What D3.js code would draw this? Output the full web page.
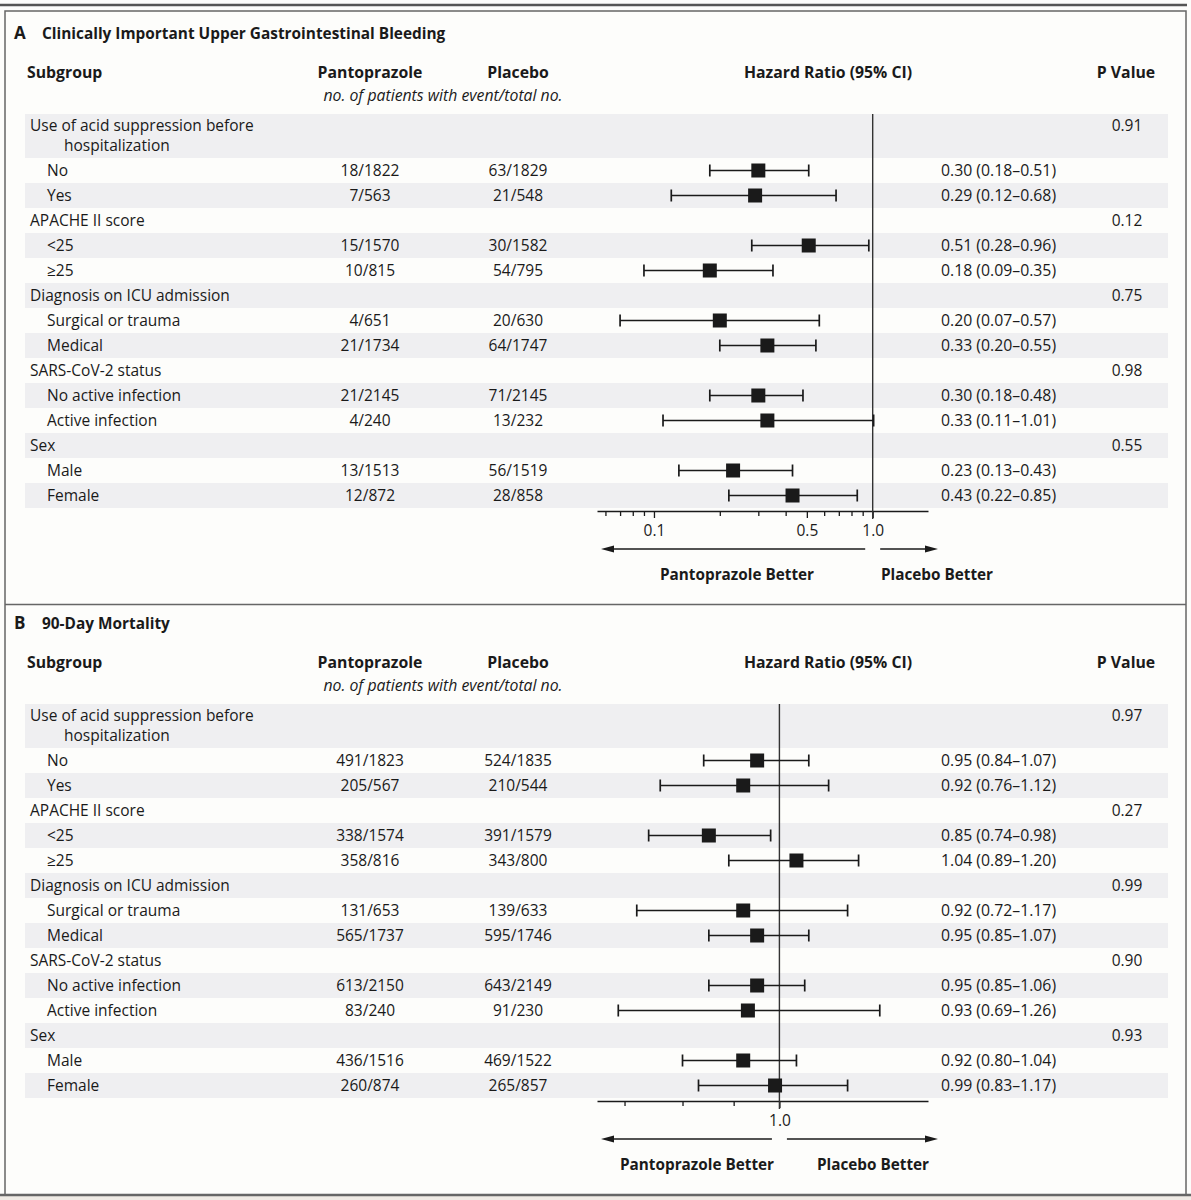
<!DOCTYPE html>
<html>
<head>
<meta charset="utf-8">
<script src="https://cdn.jsdelivr.net/npm/d3@7"></script>
<style>
  body { margin: 0; background: #fdfdfb; }
  svg text { font-family: "Open Sans", Lato, sans-serif; fill: #1a1a1a; }
</style>
</head>
<body>
<svg id="chart" width="1191" height="1200"></svg>
<script>
// subgroups shared by both panels ("|" marks a line break)
const groupNames = [
  "Use of acid suppression before|hospitalization",
  "APACHE II score",
  "Diagnosis on ICU admission",
  "SARS-CoV-2 status",
  "Sex"
];
const subgroupNames = [
  ["No", "Yes"],
  ["<25", "≥25"],
  ["Surgical or trauma", "Medical"],
  ["No active infection", "Active infection"],
  ["Male", "Female"]
];

// panel A: clinically important upper GI bleeding
const bleedPanto = ["18/1822", "7/563", "15/1570", "10/815", "4/651", "21/1734", "21/2145", "4/240", "13/1513", "12/872"];
const bleedPlacebo = ["63/1829", "21/548", "30/1582", "54/795", "20/630", "64/1747", "71/2145", "13/232", "56/1519", "28/858"];
const bleedHR = [0.30, 0.29, 0.51, 0.18, 0.20, 0.33, 0.30, 0.33, 0.23, 0.43];
const bleedLo = [0.18, 0.12, 0.28, 0.09, 0.07, 0.20, 0.18, 0.11, 0.13, 0.22];
const bleedHi = [0.51, 0.68, 0.96, 0.35, 0.57, 0.55, 0.48, 1.01, 0.43, 0.85];
const bleedP = ["0.91", "0.12", "0.75", "0.98", "0.55"];
const bleedTicks = [0.06, 0.07, 0.08, 0.09, 0.1, 0.2, 0.3, 0.4, 0.5, 0.6, 0.7, 0.8, 0.9, 1.0];
const bleedTickLabels = [0.1, 0.5, 1.0];

// panel B: 90-day mortality
const mortPanto = ["491/1823", "205/567", "338/1574", "358/816", "131/653", "565/1737", "613/2150", "83/240", "436/1516", "260/874"];
const mortPlacebo = ["524/1835", "210/544", "391/1579", "343/800", "139/633", "595/1746", "643/2149", "91/230", "469/1522", "265/857"];
const mortHR = [0.95, 0.92, 0.85, 1.04, 0.92, 0.95, 0.95, 0.93, 0.92, 0.99];
const mortLo = [0.84, 0.76, 0.74, 0.89, 0.72, 0.85, 0.85, 0.69, 0.80, 0.83];
const mortHi = [1.07, 1.12, 0.98, 1.20, 1.17, 1.07, 1.06, 1.26, 1.04, 1.17];
const mortP = ["0.97", "0.27", "0.99", "0.90", "0.93"];
const mortTicks = [0.7, 0.8, 0.9, 1.0];
const mortTickLabels = [1.0];

const svg = d3.select("#chart");
const ink = "#1a1a1a";
const fmt2 = d3.format(".2f");
const bodySize = 15.5;
const headSize = 15.8;

// frame
svg.append("line").attr("x1", 0).attr("x2", 1187).attr("y1", 5).attr("y2", 5)
    .attr("stroke", "#555").attr("stroke-width", 2.5);
svg.append("rect").attr("x", 0).attr("y", 1196).attr("width", 1191).attr("height", 4)
    .attr("fill", "#efebe5");
svg.append("rect").attr("x", 5).attr("y", 11).attr("width", 1181).attr("height", 1184)
    .attr("fill", "none").attr("stroke", "#666").attr("stroke-width", 1.5);
svg.append("line").attr("x1", 5).attr("x2", 1186).attr("y1", 604.5).attr("y2", 604.5)
    .attr("stroke", "#666").attr("stroke-width", 1.5);
svg.append("line").attr("x1", 0).attr("x2", 1191).attr("y1", 1195).attr("y2", 1195)
    .attr("stroke", "#666").attr("stroke-width", 2.5);

function buildRows(panto, placebo, hr, lo, hi, pvals)
{
  let rows = [];
  let k = 0;
  groupNames.forEach((g, gi) => {
    rows.push({ group : true, label : g, p : pvals[gi] });
    for (let s of subgroupNames[gi])
    {
      rows.push({ group : false, label : s, panto : panto[k], placebo : placebo[k],
                  hr : hr[k], lo : lo[k], hi : hi[k] });
      k++;
    }
  });
  return rows;
}

function drawPanel(cfg)
{
  const g = svg.append("g").attr("transform", `translate(0,${cfg.offset})`);

  // title and column headers
  g.append("text").attr("x", 14).attr("y", 39).attr("font-weight", 700)
      .attr("font-size", 17).text(cfg.letter);
  g.append("text").attr("x", 42).attr("y", 39).attr("font-weight", 700)
      .attr("font-size", 15.4).text(cfg.title);

  const head = g.append("g").attr("font-weight", 700).attr("font-size", headSize);
  head.append("text").attr("x", 27).attr("y", 78).text("Subgroup");
  head.append("text").attr("x", 370).attr("y", 78).attr("text-anchor", "middle").text("Pantoprazole");
  head.append("text").attr("x", 518).attr("y", 78).attr("text-anchor", "middle").text("Placebo");
  head.append("text").attr("x", 828).attr("y", 78).attr("text-anchor", "middle").text("Hazard Ratio (95% CI)");
  head.append("text").attr("x", 1126).attr("y", 78).attr("text-anchor", "middle").text("P Value");
  g.append("text").attr("x", 443).attr("y", 101).attr("text-anchor", "middle")
      .attr("font-style", "italic").attr("font-size", 15.8)
      .text("no. of patients with event/total no.");

  // row layout: first row holds two lines of text
  const rows = cfg.rows;
  let y = 114;
  rows.forEach((r, i) => {
    r.h = i === 0 ? 44 : 25;
    r.top = y;
    r.mid = y + r.h / 2;
    r.textY = i === 0 ? y + 12 : r.mid;
    y += r.h;
  });
  const axisY = y + 3;

  const x = d3.scaleLog().domain(cfg.domain).range([ 597, 928 ]);

  g.selectAll("rect.band")
      .data(rows.filter((r, i) => i % 2 === 0))
      .join("rect")
      .attr("class", "band")
      .attr("x", 25)
      .attr("y", d => d.top)
      .attr("width", 1143)
      .attr("height", d => d.h)
      .attr("fill", "#efeff1");

  const body = g.append("g").attr("font-size", bodySize);

  // subgroup labels (group names may wrap onto a second, indented line)
  body.selectAll("text.label")
      .data(rows)
      .join("text")
      .attr("class", "label")
      .attr("y", d => d.textY)
      .each(function(d) {
        const x0 = d.group ? 30 : 47;
        d3.select(this).selectAll("tspan")
            .data(d.label.split("|"))
            .join("tspan")
            .attr("x", (p, i) => i === 0 ? x0 : 64)
            .attr("dy", (p, i) => i === 0 ? "0.35em" : "20")
            .text(p => p);
      });

  const subs = rows.filter(r => !r.group);
  const groups = rows.filter(r => r.group);

  body.selectAll("text.panto")
      .data(subs).join("text").attr("class", "panto")
      .attr("x", 370).attr("y", d => d.mid).attr("dy", "0.35em")
      .attr("text-anchor", "middle").text(d => d.panto);

  body.selectAll("text.placebo")
      .data(subs).join("text").attr("class", "placebo")
      .attr("x", 518).attr("y", d => d.mid).attr("dy", "0.35em")
      .attr("text-anchor", "middle").text(d => d.placebo);

  body.selectAll("text.hr")
      .data(subs).join("text").attr("class", "hr")
      .attr("x", 941).attr("y", d => d.mid).attr("dy", "0.35em")
      .attr("font-size", 15.8)
      .text(d => `${fmt2(d.hr)} (${fmt2(d.lo)}–${fmt2(d.hi)})`);

  body.selectAll("text.pval")
      .data(groups).join("text").attr("class", "pval")
      .attr("x", 1127).attr("y", d => d.textY)
      .attr("dy", "0.35em").attr("text-anchor", "middle").text(d => d.p);

  // axis
  const axis = d3.axisBottom(x)
                   .tickValues(cfg.ticks)
                   .tickSize(5)
                   .tickSizeOuter(0)
                   .tickPadding(9)
                   .tickFormat(d => cfg.tickLabels.includes(d) ? d3.format(".1f")(d) : "");
  const ax = g.append("g").attr("transform", `translate(0,${axisY})`).call(axis);
  ax.select(".domain").attr("stroke", ink).attr("stroke-width", 1.3);
  ax.selectAll(".tick line").attr("stroke", ink).attr("stroke-width", 1.3)
      .attr("y2", d => cfg.tickLabels.includes(d) ? 7 : 5);
  ax.selectAll(".tick text").attr("font-size", 15.5).attr("fill", ink)
      .style("font-family", "'Open Sans', Lato, sans-serif");

  // reference line at 1.0
  g.append("line")
      .attr("x1", x(1)).attr("x2", x(1))
      .attr("y1", rows[0].top).attr("y2", axisY + 8)
      .attr("stroke", "#333").attr("stroke-width", 1.4);

  // confidence intervals and point estimates
  const marks = g.selectAll("g.mark").data(subs).join("g").attr("class", "mark");
  marks.append("line")
      .attr("x1", d => x(d.lo)).attr("x2", d => x(d.hi))
      .attr("y1", d => d.mid).attr("y2", d => d.mid)
      .attr("stroke", ink).attr("stroke-width", 1.7);
  for (let key of [ "lo", "hi" ])
  {
    marks.append("line")
        .attr("x1", d => x(d[key])).attr("x2", d => x(d[key]))
        .attr("y1", d => d.mid - 6).attr("y2", d => d.mid + 6)
        .attr("stroke", ink).attr("stroke-width", 1.7);
  }
  marks.append("rect")
      .attr("x", d => x(d.hr) - 7).attr("y", d => d.mid - 7)
      .attr("width", 14).attr("height", 14)
      .attr("fill", ink);

  // direction arrows
  const arrowY = axisY + 38;
  const arrows = g.append("g").attr("stroke", ink).attr("stroke-width", 1.4).attr("fill", ink);
  arrows.append("line").attr("x1", 612).attr("x2", x(1) - 7.5).attr("y1", arrowY).attr("y2", arrowY);
  arrows.append("path").attr("d", `M601,${arrowY}l13,-3.5v7z`).attr("stroke", "none");
  arrows.append("line").attr("x1", x(1) + 7.5).attr("x2", 927).attr("y1", arrowY).attr("y2", arrowY);
  arrows.append("path").attr("d", `M938,${arrowY}l-13,-3.5v7z`).attr("stroke", "none");

  const lab = g.append("g").attr("font-weight", 700).attr("font-size", 15.3);
  lab.append("text").attr("x", cfg.leftLabelX).attr("y", axisY + 64).attr("dy", "0.35em")
      .attr("text-anchor", "middle").text("Pantoprazole Better");
  lab.append("text").attr("x", cfg.rightLabelX).attr("y", axisY + 64).attr("dy", "0.35em")
      .attr("text-anchor", "middle").text("Placebo Better");
}

drawPanel({
  offset : 0,
  letter : "A",
  title : "Clinically Important Upper Gastrointestinal Bleeding",
  rows : buildRows(bleedPanto, bleedPlacebo, bleedHR, bleedLo, bleedHi, bleedP),
  domain : [ 0.0549, 1.79 ],
  ticks : bleedTicks,
  tickLabels : bleedTickLabels,
  leftLabelX : 737,
  rightLabelX : 937
});

drawPanel({
  offset : 590,
  letter : "B",
  title : "90-Day Mortality",
  rows : buildRows(mortPanto, mortPlacebo, mortHR, mortLo, mortHi, mortP),
  domain : [ 0.657, 1.408 ],
  ticks : mortTicks,
  tickLabels : mortTickLabels,
  leftLabelX : 697,
  rightLabelX : 873
});
</script>
</body>
</html>
